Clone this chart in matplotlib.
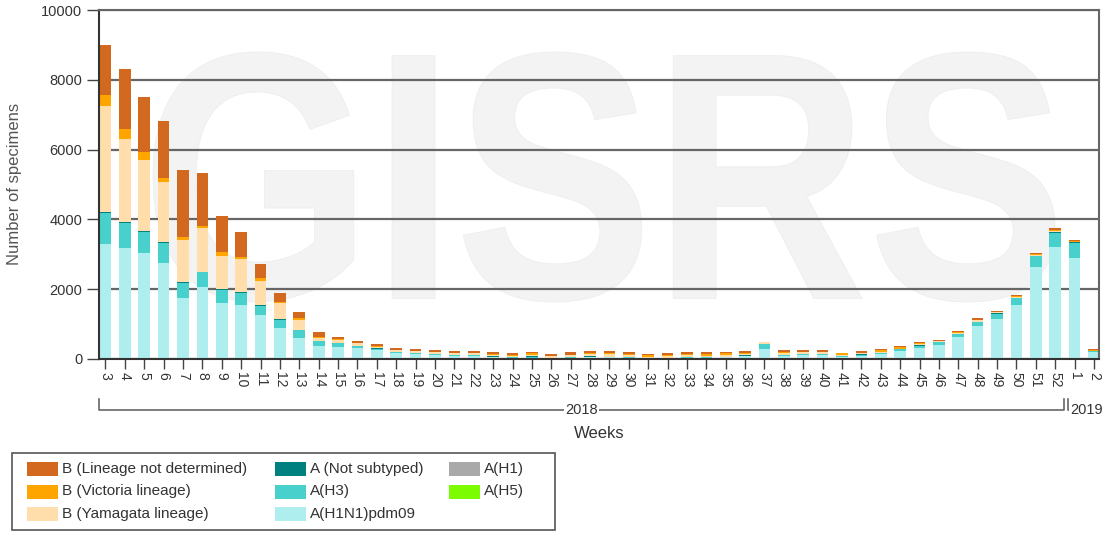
import matplotlib
matplotlib.use("Agg")
import matplotlib.pyplot as plt
from matplotlib.patches import Rectangle, PathPatch
from matplotlib.textpath import TextPath
from matplotlib.font_manager import FontProperties
from matplotlib.transforms import Affine2D

plt.rcParams["font.family"] = ["Liberation Sans", "DejaVu Sans"]

# weeks shown on the axis (2018 week 3 .. 2019 week 2)
weeks = list(range(3, 53)) + [1, 2]

# stacked series, bottom to top (number of specimens per week)
h1n1pdm09 = [3300, 3170, 3040, 2740, 1755, 2050, 1595, 1545, 1260, 880, 610, 380, 350, 320, 255, 180,
             140, 120, 100, 95, 60, 40, 20, 10, 40, 50, 45, 40, 20, 25, 40, 35, 45, 80, 285, 85,
             110, 115, 60, 100, 150, 238, 306, 401, 622, 955, 1137, 1547, 2645, 3200, 2885, 200]
h3 = [880, 720, 610, 580, 420, 430, 385, 350, 270, 245, 210, 135, 95, 50, 45, 20,
      30, 20, 15, 15, 10, 10, 40, 5, 15, 20, 20, 15, 5, 10, 10, 10, 15, 20, 140, 20,
      25, 30, 15, 25, 25, 35, 76, 80, 85, 105, 165, 200, 296, 420, 448, 20]
not_subtyped = [20, 25, 20, 20, 20, 20, 15, 15, 15, 10, 10, 10, 5, 5, 5, 5,
                5, 5, 5, 5, 5, 5, 15, 5, 5, 5, 5, 5, 5, 5, 5, 5, 10, 5, 5, 5,
                5, 5, 5, 5, 5, 5, 5, 5, 5, 10, 10, 10, 10, 10, 10, 3]
h1 = [0] * 52
h5 = [0] * 52
yamagata = [3050, 2380, 2030, 1730, 1215, 1245, 955, 945, 690, 460, 285, 85, 95, 70, 45, 50,
            40, 50, 45, 50, 40, 45, 35, 60, 55, 75, 70, 60, 30, 55, 60, 45, 40, 50, 55, 75,
            55, 50, 30, 40, 25, 20, 40, 20, 40, 35, 25, 25, 40, 50, 20, 20]
victoria = [320, 295, 230, 125, 75, 65, 105, 75, 75, 45, 50, 30, 35, 10, 10, 10,
            5, 5, 5, 5, 15, 10, 55, 10, 10, 15, 25, 10, 60, 10, 15, 60, 50, 15, 5, 15,
            10, 10, 50, 15, 50, 60, 20, 10, 15, 15, 10, 10, 15, 20, 10, 5]
b_undetermined = [1430, 1720, 1570, 1625, 1930, 1510, 1050, 700, 410, 260, 170, 120, 40, 60, 60, 60,
                  58, 58, 59, 59, 60, 53, 25, 45, 65, 64, 64, 60, 23, 58, 60, 35, 30, 59, 7, 58,
                  53, 48, 20, 44, 32, 14, 31, 29, 45, 45, 38, 42, 41, 45, 37, 30]

series = [
    ("A(H1N1)pdm09", h1n1pdm09, "#afeeee"),
    ("A(H3)", h3, "#48d1cc"),
    ("A (Not subtyped)", not_subtyped, "#00807f"),
    ("A(H1)", h1, "#a9a9a9"),
    ("A(H5)", h5, "#7cfc00"),
    ("B (Yamagata lineage)", yamagata, "#ffdeab"),
    ("B (Victoria lineage)", victoria, "#ffa500"),
    ("B (Lineage not determined)", b_undetermined, "#d2691e"),
]
legend_order = ["B (Lineage not determined)", "B (Victoria lineage)", "B (Yamagata lineage)",
                "A (Not subtyped)", "A(H3)", "A(H1N1)pdm09", "A(H1)", "A(H5)"]

W, H = 1104, 537


def fx(x):
    return x / W


def fy(y):
    return 1 - y / H


fig = plt.figure(figsize=(W / 100, H / 100), dpi=100)
ax = fig.add_axes([fx(99), fy(359), (1099 - 99) / W, (359 - 10) / H])

# GISRS watermark in the background
tp = TextPath((0, 0), "GISRS", size=1, prop=FontProperties(family="Liberation Sans", weight="bold"))
ext = tp.get_extents()
box_x0, box_x1, box_y0, box_y1 = fx(153), fx(1055), fy(302), fy(52)
wm_tr = (Affine2D().translate(-ext.x0, -ext.y0)
         .scale((box_x1 - box_x0) / ext.width, (box_y1 - box_y0) / ext.height)
         .translate(box_x0, box_y0))
ax.add_patch(PathPatch(tp, transform=wm_tr + fig.transFigure, facecolor="#f3f3f3",
                       edgecolor="#eeeeee", lw=0.6, zorder=0.1, clip_on=False))

x = list(range(len(weeks)))
bottom = [0] * len(weeks)
handles = {}
for name, vals, col in series:
    ax.bar(x, vals, width=0.6, bottom=bottom, color=col, linewidth=0, zorder=2)
    handles[name] = col
    bottom = [bb + v for bb, v in zip(bottom, vals)]

ax.set_xlim(-0.335, 51.26)
ax.set_ylim(0, 10000)
ax.set_yticks([0, 2000, 4000, 6000, 8000, 10000])
ax.set_yticklabels(["0", "2000", "4000", "6000", "8000", "10000"])
ax.set_xticks(x)
ax.set_xticklabels([str(w) for w in weeks], rotation=270)
ax.tick_params(axis="y", length=9, width=1, color="#444", labelsize=10.5, labelcolor="#333", pad=3)
ax.tick_params(axis="x", length=7, width=1, color="#444", labelsize=10, labelcolor="#333", pad=2)

ax.set_axisbelow(True)
ax.yaxis.grid(True, color="#666666", linewidth=1.6)
for s in ["left", "bottom"]:
    ax.spines[s].set_color("#333333")
    ax.spines[s].set_linewidth(1.5)
for s in ["top", "right"]:
    ax.spines[s].set_color("#666666")
    ax.spines[s].set_linewidth(1.5)

# year brackets under the week labels
tr = ax.get_xaxis_transform()
y_line = (359 - 410) / 349
y_top = (359 - 399) / 349
x_left = ax.get_xlim()[0]
ax.plot([x_left, x_left, 49.45, 49.45], [y_top, y_line, y_line, y_top], color="#666",
        lw=1.2, transform=tr, clip_on=False)
ax.text((x_left + 49.45) / 2, y_line, "2018", transform=tr, ha="center", va="center",
        fontsize=10.5, color="#333", bbox=dict(facecolor="white", edgecolor="none", pad=1))
ax.plot([49.65, 49.65, 52.5], [y_top, y_line, y_line], color="#666", lw=1.2,
        transform=tr, clip_on=False)
ax.text(49.8, y_line, "2019", transform=tr, ha="left", va="center", fontsize=10.5, color="#333",
        bbox=dict(facecolor="white", edgecolor="none", pad=1))

fig.text(fx(599), fy(434), "Weeks", ha="center", va="center", fontsize=12, color="#333")
fig.text(fx(15), fy(184), "Number of specimens", rotation=90, ha="center", va="center",
         fontsize=12, color="#555")

# legend box drawn by hand
fig.add_artist(Rectangle((fx(12), fy(530)), (555 - 12) / W, (530 - 453) / H,
                         transform=fig.transFigure, facecolor="white", edgecolor="#555", lw=1.2))
col_x = [27, 275, 449]
row_y = [469, 491.5, 514]
for i, name in enumerate(legend_order):
    cx = col_x[i // 3]
    cy = row_y[i % 3]
    fig.add_artist(Rectangle((fx(cx), fy(cy + 7)), 31 / W, 14 / H, transform=fig.transFigure,
                             facecolor=handles[name], edgecolor="none"))
    fig.text(fx(cx + 35), fy(cy), name, ha="left", va="center", fontsize=11, color="#333")

fig.savefig("out.png", dpi=100)
